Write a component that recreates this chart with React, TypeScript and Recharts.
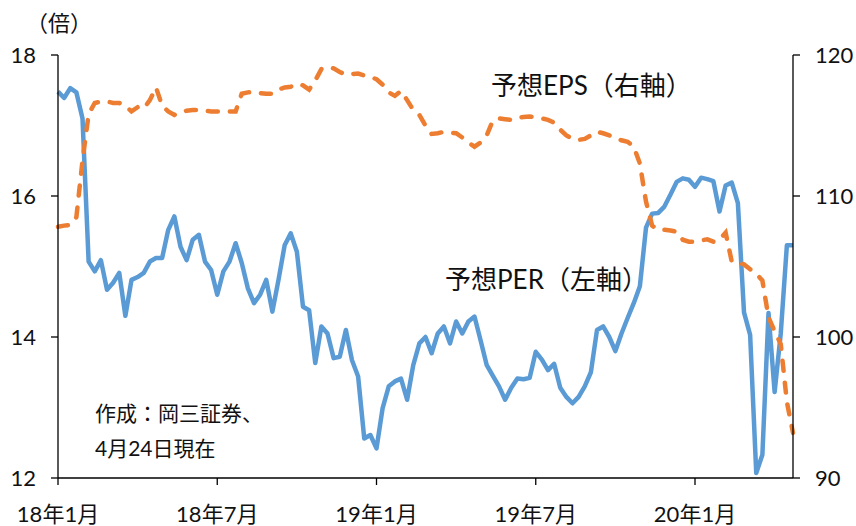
import { LineChart, Line, XAxis, YAxis } from "recharts";

// weekly, 2018-01-05 .. 2020-04-24
const per = [
  17.48, 17.39, 17.53, 17.47, 17.1, 15.07, 14.93, 15.09, 14.67, 14.77,
  14.91, 14.3, 14.81, 14.85, 14.91, 15.07, 15.12, 15.12, 15.52, 15.71,
  15.28, 15.09, 15.38, 15.45, 15.07, 14.95, 14.6, 14.93, 15.07, 15.33,
  15.05, 14.69, 14.48, 14.6, 14.81, 14.36, 14.81, 15.3, 15.47, 15.21,
  14.43, 14.38, 13.63, 14.15, 14.05, 13.7, 13.72, 14.1, 13.67, 13.44,
  12.56, 12.61, 12.42, 12.99, 13.3, 13.37, 13.41, 13.11, 13.6, 13.91,
  14.0, 13.77, 14.05, 14.15, 13.91, 14.22, 14.05, 14.22, 14.29, 13.95,
  13.6, 13.45, 13.3, 13.11, 13.28, 13.41, 13.4, 13.42, 13.79, 13.68,
  13.53, 13.62, 13.28, 13.15, 13.06, 13.15, 13.3, 13.5, 14.1, 14.15,
  14.0, 13.8, 14.05, 14.27, 14.48, 14.72, 15.55, 15.75, 15.76, 15.85,
  16.02, 16.2, 16.25, 16.23, 16.13, 16.26, 16.24, 16.21, 15.78, 16.15,
  16.19, 15.9, 14.35, 14.03, 12.07, 12.33, 14.34, 13.22, 14.05, 15.3,
  15.3,
];

const eps = [
  107.82, 107.9, 107.95, 108.5, 112.5, 115.8, 116.6, 116.7, 116.7, 116.6,
  116.6, 116.4, 116.0, 116.3, 116.2, 116.8, 117.7, 116.4, 116.0, 115.75,
  115.95, 116.05, 116.1, 116.1, 116.05, 116.0, 116.0, 116.0, 116.0, 116.0,
  117.25, 117.35, 117.4, 117.3, 117.25, 117.25, 117.55, 117.7, 117.75, 117.95,
  117.85, 117.55, 118.2, 119.0, 119.15, 119.05, 118.8, 118.6, 118.65, 118.68,
  118.55, 118.45, 118.28, 117.9, 117.35, 117.1, 117.45, 116.8, 116.1, 115.75,
  115.0, 114.4, 114.45, 114.55, 114.5, 114.45, 114.15, 113.8, 113.5, 113.8,
  114.3, 115.35, 115.5, 115.45, 115.4, 115.55, 115.6, 115.63, 115.58, 115.5,
  115.4, 115.2, 114.7, 114.3, 114.05, 113.98, 114.05, 114.3, 114.56, 114.45,
  114.3, 114.1, 113.95, 113.85, 113.5, 112.3, 109.6, 107.9, 107.6, 107.6,
  107.55, 107.47, 106.9, 106.76, 106.76, 106.85, 106.93, 106.76, 106.9, 107.4,
  105.35, 105.25, 105.15, 104.8, 104.5, 104.0, 101.4, 100.4, 99.5, 95.4,
  93.2,
];

const xTickIdx = [0, 26, 52, 78, 104];
const xTickLabels = ["18年1月", "18年7月", "19年1月", "19年7月", "20年1月"];
const leftTicks = [12, 14, 16, 18];
const rightTicks = [90, 100, 110, 120];

const data = per.map((p, i) => ({ i, per: p, eps: eps[i] }));

const FONT = "Lato, 'Noto Sans CJK JP', sans-serif";
const tickStyle = { fontSize: 22, fill: "#111", fontFamily: FONT };

const note = (left: number, top: number, text: string, size = 21) => (
  <div
    style={{
      position: "absolute",
      left,
      top,
      fontSize: size,
      fontFamily: FONT,
      color: "#111",
      whiteSpace: "nowrap",
      lineHeight: 1,
    }}
  >
    {text}
  </div>
);

export default function App() {
  return (
    <div style={{ position: "absolute", left: 0, top: 0, width: 856, height: 526, background: "#fff" }}>
      <LineChart width={856} height={526} data={data} margin={{ top: 55, right: 0, bottom: 0, left: 0 }}>
        <XAxis
          dataKey="i"
          type="number"
          domain={[0, 120]}
          ticks={xTickIdx}
          tickFormatter={(v: number) => xTickLabels[xTickIdx.indexOf(v)]}
          tick={{ ...tickStyle, fontSize: 22 }}
          tickSize={7}
          tickMargin={21}
          height={48}
          stroke="#000"
          strokeWidth={1.3}
          interval={0}
        />
        <YAxis
          yAxisId="l"
          domain={[12, 18]}
          ticks={leftTicks}
          tick={tickStyle}
          tickSize={7}
          tickMargin={15}
          width={58}
          stroke="#000"
          strokeWidth={1.3}
        />
        <YAxis
          yAxisId="r"
          orientation="right"
          domain={[90, 120]}
          ticks={rightTicks}
          tick={tickStyle}
          tickSize={7}
          tickMargin={15}
          width={63}
          stroke="#000"
          strokeWidth={1.3}
        />
        <Line
          yAxisId="l"
          dataKey="per"
          type="linear"
          stroke="#5B9BD5"
          strokeWidth={4.5}
          dot={false}
          strokeLinejoin="round"
          isAnimationActive={false}
        />
        <Line
          yAxisId="r"
          dataKey="eps"
          type="linear"
          stroke="#ED7D31"
          strokeWidth={4.5}
          strokeDasharray="10 12"
          strokeLinecap="round"
          dot={false}
          isAnimationActive={false}
        />
      </LineChart>
      {note(26, 12, "（倍）", 22)}
      {note(491, 72, "予想EPS（右軸）", 26)}
      {note(445, 266, "予想PER（左軸）", 26)}
      {note(95, 402, "作成：岡三証券、", 21)}
      {note(95, 437, "4月24日現在", 21)}
    </div>
  );
}
